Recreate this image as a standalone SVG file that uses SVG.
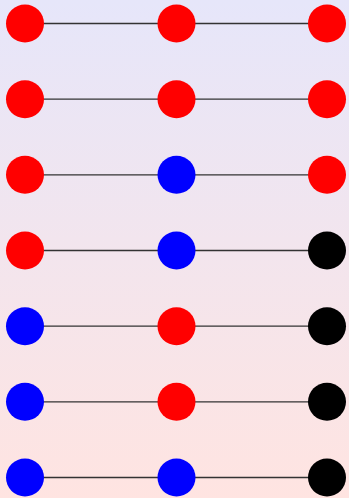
<svg xmlns="http://www.w3.org/2000/svg" width="349" height="498" viewBox="0 0 349 498">
<defs>
<linearGradient id="bg" x1="0" y1="0" x2="0" y2="1">
<stop offset="0" stop-color="#E6E6FA"/>
<stop offset="1" stop-color="#FFE4E1"/>
</linearGradient>
</defs>
<style>
.e{stroke:#333;stroke-width:1.3;fill:none}
.r{fill:#FF0000}
.b{fill:#0000FF}
.k{fill:#000000}
</style>
<rect width="349" height="498" fill="url(#bg)"/>
<g id="connectors">
<line class="e" x1="25" y1="23.5" x2="327" y2="23.5"/>
<line class="e" x1="25" y1="99.2" x2="327" y2="99.2"/>
<line class="e" x1="25" y1="174.8" x2="327" y2="174.8"/>
<line class="e" x1="25" y1="250.5" x2="327" y2="250.5"/>
<line class="e" x1="25" y1="326.2" x2="327" y2="326.2"/>
<line class="e" x1="25" y1="401.8" x2="327" y2="401.8"/>
<line class="e" x1="25" y1="477.5" x2="327" y2="477.5"/>
</g>
<g id="n1a"><circle class="r" cx="25" cy="23.5" r="19"/></g>
<g id="n1b"><circle class="r" cx="176.5" cy="23.5" r="19"/></g>
<g id="n1c"><circle class="r" cx="327" cy="23.5" r="19"/></g>
<g id="n2a"><circle class="r" cx="25" cy="99.2" r="19"/></g>
<g id="n2b"><circle class="r" cx="176.5" cy="99.2" r="19"/></g>
<g id="n2c"><circle class="r" cx="327" cy="99.2" r="19"/></g>
<g id="n3a"><circle class="r" cx="25" cy="174.8" r="19"/></g>
<g id="n3b"><circle class="b" cx="176.5" cy="174.8" r="19"/></g>
<g id="n3c"><circle class="r" cx="327" cy="174.8" r="19"/></g>
<g id="n4a"><circle class="r" cx="25" cy="250.5" r="19"/></g>
<g id="n4b"><circle class="b" cx="176.5" cy="250.5" r="19"/></g>
<g id="n4c"><circle class="k" cx="327" cy="250.5" r="19"/></g>
<g id="n5a"><circle class="b" cx="25" cy="326.2" r="19"/></g>
<g id="n5b"><circle class="r" cx="176.5" cy="326.2" r="19"/></g>
<g id="n5c"><circle class="k" cx="327" cy="326.2" r="19"/></g>
<g id="n6a"><circle class="b" cx="25" cy="401.8" r="19"/></g>
<g id="n6b"><circle class="r" cx="176.5" cy="401.8" r="19"/></g>
<g id="n6c"><circle class="k" cx="327" cy="401.8" r="19"/></g>
<g id="n7a"><circle class="b" cx="25" cy="477.5" r="19"/></g>
<g id="n7b"><circle class="b" cx="176.5" cy="477.5" r="19"/></g>
<g id="n7c"><circle class="k" cx="327" cy="477.5" r="19"/></g>
</svg>
